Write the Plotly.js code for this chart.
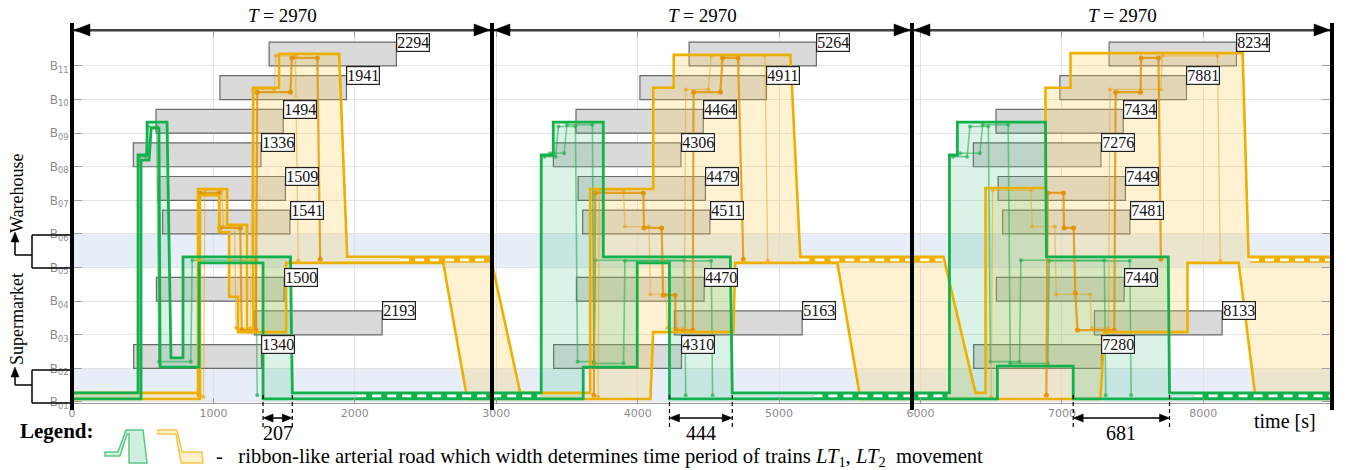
<!DOCTYPE html>
<html><head><meta charset="utf-8">
<script src="https://cdn.plot.ly/plotly-3.0.1.min.js"></script>
<style>html,body{margin:0;padding:0;background:#fff}#chart{width:1346px;height:470px}</style>
</head><body><div id="chart"></div>
<script>
// ---------------- data ----------------
const PERIOD = 2970;
const periodStarts = [0, 2970, 5940, 8910];
const xMax = 8910;
const xTicks = [0,1000,2000,3000,4000,5000,6000,7000,8000];
const levelTicks = [1,2,3,4,5,6,7,8,9,10,11];
const levelLabels = ['01','02','03','04','05','06','07','08','09','10','11'];
const bandLevels = [[1,2],[5,6]];

const jobLevels   = [11,10,9,8,7,6,4,3,2];
const jobEndP1    = [2294,1941,1494,1336,1509,1541,1500,2193,1340];
const jobEndP2    = [5264,4911,4464,4306,4479,4511,4470,5163,4310];
const jobEndP3    = [8234,7881,7434,7276,7449,7481,7440,8133,7280];
const jobDuration = [900,895,900,902,900,900,903,903,904];

// green ribbon (train LT1): outer edge and inner edge
const greenOuterX = [0,467,467,531,531,672,700,785,785,1545,1558,3318,3318,3403,3403,3757,3757,4655,4669,6205,6205,6261,6261,6884,6891,7752,7761,8910];
const greenOuterY = [1.27,1.27,8.35,8.35,9.33,9.33,2.31,2.31,5.32,5.32,1.27,1.27,8.35,8.35,9.33,9.33,5.32,5.32,1.27,1.27,8.35,8.35,9.33,9.33,5.32,5.32,1.27,1.27];
const greenInnerX = [0,488,488,545,560,615,623,899,899,1351,1351,3615,3615,3997,3997,4225,4225,6544,6544,7080,7080,8910];
const greenInnerY = [1.09,1.09,8.2,8.2,9.15,9.15,2.04,2.04,5.14,5.14,1.09,1.09,2.04,2.04,5.14,5.14,1.09,1.09,2.07,2.07,1.09,1.09];

// orange ribbon (train LT2)
const orangeOuterX = [0,891,891,1097,1097,1238,1238,1281,1281,1464,1464,1889,1946,2960,3170,3664,3664,4110,4110,4255,4255,5080,5150,6163,6389,6460,6460,6884,6884,7061,7061,8278,8320,8910];
const orangeOuterY = [1.27,1.27,7.34,7.34,6.27,6.27,3.08,3.08,10.35,10.35,11.36,11.36,5.32,5.32,1.27,1.27,7.34,7.34,10.35,10.35,11.33,11.33,5.32,5.32,1.27,1.27,7.37,7.37,10.35,10.35,11.38,11.38,5.32,5.32];
const orangeInnerX = [0,905,905,1040,1040,1111,1111,1174,1174,1514,1514,2625,2795,4090,4110,4677,4690,5412,5575,7273,7300,7888,7888,8250,8370,8910];
const orangeInnerY = [1.09,1.09,7.15,7.15,6.05,6.05,4.13,4.13,3.08,3.08,5.14,5.14,1.09,1.09,3.08,3.08,5.14,5.14,1.09,1.09,3.08,3.08,5.14,5.14,1.09,1.09];

// hatched (waiting) segments
const greenHatchStart = [2017,5243,7931];
const greenHatchEnd   = [3310,6190,8910];
const greenHatchLevel = 1.18;
const orangeHatchStart = [2320,5150,8330];
const orangeHatchEnd   = [2960,6150,8910];
const orangeHatchLevel = 5.23;

// individual train trajectories inside ribbons
const greenThin1X = [475,520,535,600,615,840,850,1300,1310];
const greenThin1Y = [8.3,8.3,9.2,9.2,2.2,2.2,5.22,5.22,1.2];
const greenThin2X = [3340,3420,3440,3560,3575,3690,3700,4330,4340];
const greenThin2Y = [8.3,8.3,9.2,9.2,2.2,2.2,5.22,5.22,1.2];
const greenThin3X = [3380,3480,3500,3680,3690,3900,3910,4520,4530];
const greenThin3Y = [8.4,8.4,9.25,9.25,2.15,2.15,5.2,5.2,1.2];
const greenThin4X = [6230,6330,6350,6480,6495,6700,6710,7300,7310];
const greenThin4Y = [8.3,8.3,9.2,9.2,2.2,2.2,5.22,5.22,1.2];
const greenThin5X = [6280,6420,6440,6620,6635,6900,6910,7480,7490];
const greenThin5Y = [8.4,8.4,9.25,9.25,2.15,2.15,5.2,5.2,1.2];

const orangeThin1X = [900,905,1040,1045,1190,1200,1300,1310,1545,1555,1735,1755];
const orangeThin1Y = [1.2,7.22,7.22,6.18,6.18,3.14,3.14,10.22,10.22,11.24,11.24,5.25];
const orangeThin2X = [930,940,1060,1070,1150,1160,1260,1280,1430,1440,1580,1600];
const orangeThin2Y = [1.15,7.3,7.3,6.22,6.22,3.2,3.2,10.3,10.3,11.3,11.3,5.2];
const orangeThin3X = [3690,3700,4040,4045,4170,4180,4265,4270,4390,4395,4585,4600,4710,4747];
const orangeThin3Y = [1.2,7.22,7.22,6.18,6.18,4.18,4.18,3.14,3.14,10.22,10.22,11.24,11.24,5.25];
const orangeThin4X = [3720,3730,3900,3910,4080,4090,4200,4210,4330,4340,4500,4520,4900,4920];
const orangeThin4Y = [1.15,7.3,7.3,6.22,6.22,4.2,4.2,3.2,3.2,10.3,10.3,11.3,11.3,5.2];
const orangeThin5X = [6890,6900,7011,7015,7083,7095,7110,7370,7380,7556,7560,7683,7700];
const orangeThin5Y = [1.2,7.22,7.22,6.18,6.18,4.24,3.14,3.14,10.22,10.22,11.24,11.24,5.25];
const orangeThin6X = [6500,6510,6780,6790,6950,6960,7200,7210,7330,7340,7700,7710,8100,8120];
const orangeThin6Y = [1.15,7.3,7.3,6.22,6.22,4.2,4.2,3.2,3.2,10.3,10.3,11.3,11.3,5.2];

// ribbon width markers
const gapStart = [1351,4225,7080];
const gapEnd   = [1558,4669,7761];
const gapLabel = ['207','444','681'];

// ---------------- styling ----------------
const SERIF = 'Liberation Serif, Times New Roman, serif';
const G_LINE = '#13b14c', O_LINE = '#eeb000';
const G_FILL = 'rgba(40,185,110,0.17)', O_FILL = 'rgba(250,205,80,0.26)';

// plot box in pixels (for decorations outside the axes)
const L = 72, R = 1332, T0 = 32, B0 = 403;
const xp = px => (px - L) / (R - L);
const yp = py => (B0 - py) / (B0 - T0);
const sx = s => s / xMax;

const traces = [];
function ribbonFill(ox, oy, ix, iy, color){
  traces.push({x: ox.concat(ix.slice().reverse()), y: oy.concat(iy.slice().reverse()),
    mode:'lines', fill:'toself', fillcolor: color, line:{color:'rgba(0,0,0,0)', width:0}, hoverinfo:'skip', showlegend:false});
}
function line(x, y, color, width, extra){
  traces.push(Object.assign({x, y, mode:'lines', line:{color, width}, hoverinfo:'skip', showlegend:false}, extra||{}));
}
ribbonFill(orangeOuterX, orangeOuterY, orangeInnerX, orangeInnerY, O_FILL);
ribbonFill(greenOuterX, greenOuterY, greenInnerX, greenInnerY, G_FILL);

// thin trajectories
[[greenThin1X,greenThin1Y],[greenThin2X,greenThin2Y],[greenThin3X,greenThin3Y],[greenThin4X,greenThin4Y],[greenThin5X,greenThin5Y]].forEach(p=>{
  line(p[0], p[1], 'rgba(40,175,80,0.6)', 1.6, {mode:'lines+markers', marker:{size:4, color:'rgba(40,175,80,0.7)'}});
});
[[orangeThin2X,orangeThin2Y],[orangeThin4X,orangeThin4Y],[orangeThin6X,orangeThin6Y]].forEach(p=>{
  line(p[0], p[1], 'rgba(232,165,30,0.55)', 1.3, {mode:'lines+markers', marker:{size:4, color:'rgba(232,165,30,0.7)'}});
});
[[orangeThin1X,orangeThin1Y],[orangeThin3X,orangeThin3Y],[orangeThin5X,orangeThin5Y]].forEach(p=>{
  line(p[0], p[1], 'rgba(225,145,0,0.8)', 2.2, {mode:'lines+markers', marker:{size:5, color:'rgba(225,145,0,0.9)'}});
});

// orange ribbon edges
line(orangeOuterX, orangeOuterY, O_LINE, 2.6);
line(orangeInnerX, orangeInnerY, O_LINE, 2.6);
// orange hatched band
orangeHatchStart.forEach((a,i)=>{
  line([a, orangeHatchEnd[i]], [orangeHatchLevel, orangeHatchLevel], O_LINE, 6);
  line([a, orangeHatchEnd[i]], [orangeHatchLevel, orangeHatchLevel], '#ffffff', 2.6, {line:{color:'#fff', width:2.6, dash:'9px,6px'}});
});
// green ribbon edges
line(greenOuterX, greenOuterY, G_LINE, 2.8);
line(greenInnerX, greenInnerY, G_LINE, 2.8);
greenHatchStart.forEach((a,i)=>{
  line([a, greenHatchEnd[i]], [greenHatchLevel, greenHatchLevel], G_LINE, 6.5);
  line([a, greenHatchEnd[i]], [greenHatchLevel, greenHatchLevel], '#fff', 2.8, {line:{color:'#fff', width:2.8, dash:'9px,6px'}});
});

// ---------------- shapes & annotations ----------------
const shapes = [];
const annotations = [];

bandLevels.forEach(b=>{
  shapes.push({type:'rect', xref:'paper', yref:'y', x0:0, x1:1, y0:b[0], y1:b[1], fillcolor:'#e7eef8', line:{width:0}, layer:'below'});
});

[jobEndP1, jobEndP2, jobEndP3].forEach(ends=>{
  ends.forEach((e,j)=>{
    shapes.push({type:'rect', xref:'x', yref:'y', x0:e - jobDuration[j], x1:e, y0:jobLevels[j], y1:jobLevels[j]+0.71,
      fillcolor:'#dadada', line:{color:'#6a6a6a', width:1.2}, layer:'between'});
    annotations.push({x:e, y:jobLevels[j]+0.71, xref:'x', yref:'y', xanchor:'left', yanchor:'middle', showarrow:false,
      text:String(e), font:{family:SERIF, size:16, color:'#111'}, bgcolor:'#ffffff', bordercolor:'#222', borderwidth:1.2, borderpad:0});
  });
});

// period boundaries
periodStarts.forEach(s=>{
  shapes.push({type:'line', xref:'paper', yref:'paper', x0:sx(s), x1:sx(s), y0:yp(410), y1:yp(23), line:{color:'#000', width:4}, layer:'above'});
});
// T = 2970 dimension arrows
const yArr = yp(30), hh = 6/(B0-T0), hl = 16*xMax/(R-L);
for (let p=0; p<3; p++){
  const a = periodStarts[p], b = periodStarts[p+1];
  shapes.push({type:'line', xref:'paper', yref:'paper', x0:sx(a), x1:sx(b), y0:yArr, y1:yArr, line:{color:'#000', width:1.6}, layer:'above'});
  const ta = a + 14, tb = b - 14;
  shapes.push({type:'path', xref:'paper', yref:'paper', path:`M ${sx(ta)},${yArr} L ${sx(ta+hl)},${yArr+hh} L ${sx(ta+hl)},${yArr-hh} Z`, fillcolor:'#000', line:{color:'#000', width:0.5}, layer:'above'});
  shapes.push({type:'path', xref:'paper', yref:'paper', path:`M ${sx(tb)},${yArr} L ${sx(tb-hl)},${yArr+hh} L ${sx(tb-hl)},${yArr-hh} Z`, fillcolor:'#000', line:{color:'#000', width:0.5}, layer:'above'});
  annotations.push({x:sx((a+b)/2), y:yp(16), xref:'paper', yref:'paper', showarrow:false, text:'<i>T</i> = ' + PERIOD,
    font:{family:SERIF, size:19, color:'#000'}, xanchor:'center', yanchor:'middle'});
}

// ribbon width markers at the bottom
const yDim = yp(418), dh = 4/(B0-T0), dl = 10*xMax/(R-L);
gapStart.forEach((a,i)=>{
  const b = gapEnd[i];
  [a,b].forEach(s=>shapes.push({type:'line', xref:'paper', yref:'paper', x0:sx(s), x1:sx(s), y0:yp(395), y1:yp(428), line:{color:'#000', width:1.2, dash:'4px,3px'}, layer:'above'}));
  shapes.push({type:'line', xref:'paper', yref:'paper', x0:sx(a+dl*0.5), x1:sx(b-dl*0.5), y0:yDim, y1:yDim, line:{color:'#000', width:1.5}, layer:'above'});
  shapes.push({type:'path', xref:'paper', yref:'paper', path:`M ${sx(a)},${yDim} L ${sx(a+dl)},${yDim+dh} L ${sx(a+dl)},${yDim-dh} Z`, fillcolor:'#000', line:{color:'#000', width:0.5}, layer:'above'});
  shapes.push({type:'path', xref:'paper', yref:'paper', path:`M ${sx(b)},${yDim} L ${sx(b-dl)},${yDim+dh} L ${sx(b-dl)},${yDim-dh} Z`, fillcolor:'#000', line:{color:'#000', width:0.5}, layer:'above'});
  annotations.push({x:sx((a+b)/2), y:yp(433), xref:'paper', yref:'paper', showarrow:false, text:gapLabel[i],
    font:{family:SERIF, size:20, color:'#000'}, xanchor:'center', yanchor:'middle'});
});

// left brackets (Warehouse / Supermarket)
function seg(x0,y0,x1,y1,w){ shapes.push({type:'line', xref:'paper', yref:'paper', x0:xp(x0), y0:yp(y0), x1:xp(x1), y1:yp(y1), line:{color:'#000', width:w||1.5}, layer:'above'}); }
function tri(pts){ shapes.push({type:'path', xref:'paper', yref:'paper', path:'M '+pts.map(p=>xp(p[0])+','+yp(p[1])).join(' L ')+' Z', fillcolor:'#000', line:{color:'#000', width:0.5}, layer:'above'}); }
seg(32,235,72,235); seg(32,235,32,268); seg(32,268,72,268); seg(15,255,32,255); seg(15,255,15,240);
tri([[15,232],[11,242],[19,242]]);
seg(32,370,72,370); seg(32,370,32,403); seg(32,403,72,403); seg(15,385,32,385); seg(15,385,15,375);
tri([[15,367],[11,377],[19,377]]);
annotations.push({x:xp(17), y:yp(193), xref:'paper', yref:'paper', showarrow:false, text:'Warehouse', textangle:-90,
  font:{family:SERIF, size:18, color:'#000'}, xanchor:'center', yanchor:'middle'});
annotations.push({x:xp(17), y:yp(319), xref:'paper', yref:'paper', showarrow:false, text:'Supermarket', textangle:-90,
  font:{family:SERIF, size:18, color:'#000'}, xanchor:'center', yanchor:'middle'});

// axis title
annotations.push({x:xp(1285), y:yp(421), xref:'paper', yref:'paper', showarrow:false, text:'time [s]',
  font:{family:SERIF, size:20, color:'#000'}, xanchor:'center', yanchor:'middle'});

// legend
annotations.push({x:xp(18), y:yp(431), xref:'paper', yref:'paper', showarrow:false, text:'<b>Legend:</b>',
  font:{family:SERIF, size:21, color:'#000'}, xanchor:'left', yanchor:'middle'});
function poly(pts, fill, stroke){ shapes.push({type:'path', xref:'paper', yref:'paper', path:'M '+pts.map(p=>xp(p[0])+','+yp(p[1])).join(' L ')+' Z', fillcolor:fill, line:{color:stroke, width:1.5}, layer:'above'}); }
poly([[105,452],[118,452],[126,430],[143,430],[147,463],[129,463],[129,434],[127,434],[120,456],[105,456]], 'rgba(40,185,110,0.22)', '#5cc784');
poly([[158,430],[177,430],[182,452],[202,452],[203,463],[181,463],[176,434],[158,434]], 'rgba(250,205,80,0.3)', '#f3c64a');
annotations.push({x:xp(214), y:yp(457), xref:'paper', yref:'paper', showarrow:false,
  text:'-   ribbon-like arterial road which width determines time period of trains <i>LT</i><sub>1</sub>, <i>LT</i><sub>2</sub>  movement',
  font:{family:SERIF, size:20.6, color:'#000'}, xanchor:'left', yanchor:'middle'});

const layout = {
  width:1346, height:470,
  margin:{l:L, r:1346-R, t:T0, b:470-B0, pad:0},
  paper_bgcolor:'#fff', plot_bgcolor:'#fff',
  showlegend:false, hovermode:false,
  xaxis:{range:[0,xMax], tickvals:xTicks, ticktext:xTicks.map(String), showgrid:true, gridcolor:'#e2e2e2', gridwidth:1,
    zeroline:false, showline:true, linecolor:'#9a9a9a', linewidth:1, mirror:'ticks', ticks:'inside', ticklen:5, tickcolor:'#9a9a9a',
    tickfont:{family:'DejaVu Sans', size:11, color:'#8c8c8c'}, fixedrange:true},
  yaxis:{range:[0.97,12.01], tickvals:levelTicks, ticktext:levelLabels.map(s=>'B<sub>'+s+'</sub>'), showgrid:true, gridcolor:'#e4e4e4',
    zeroline:false, showline:true, linecolor:'#9a9a9a', mirror:'ticks', ticks:'inside', ticklen:10, tickcolor:'#a0a0a0',
    tickfont:{family:'DejaVu Sans', size:12, color:'#8c8c8c'}, fixedrange:true},
  shapes, annotations
};
Plotly.newPlot('chart', traces, layout, {displayModeBar:false, staticPlot:true});
</script></body></html>
